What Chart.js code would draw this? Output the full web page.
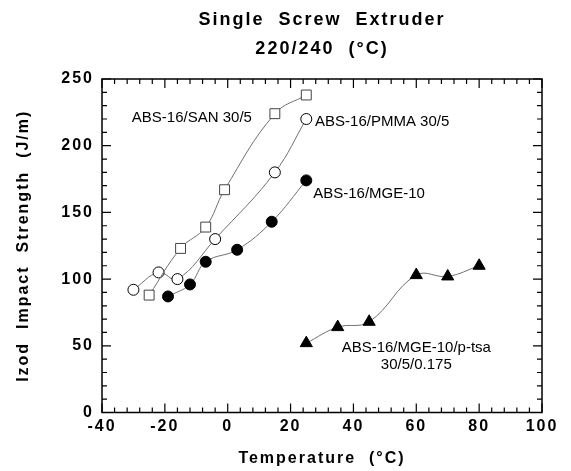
<!DOCTYPE html>
<html>
<head>
<meta charset="utf-8">
<script src="https://cdn.jsdelivr.net/npm/chart.js@4.4.1/dist/chart.umd.min.js"></script>
<style>
  html, body { margin: 0; padding: 0; background: #fff; }
  canvas { display: block; }
</style>
</head>
<body>
<canvas id="impact" width="571" height="471"></canvas>
<script>
// Izod impact strength vs temperature (single screw extruder, 220/240 C)
const sanTemp = [-25, -15, -7, -1, 15, 25];
const sanImpact = [88, 123, 139, 167, 224, 238];
const pmmaTemp = [-30, -22, -16, -4, 15, 25];
const pmmaImpact = [92, 105, 100, 130, 180, 220];
const mgeTemp = [-19, -12, -7, 3, 14, 25];
const mgeImpact = [87, 96, 113, 122, 143, 174];
const tsaTemp = [25, 35, 45, 60, 70, 80];
const tsaImpact = [52, 64, 68, 103, 102, 110];

const xTicks = [-40, -20, 0, 20, 40, 60, 80, 100];
const yTicks = [0, 50, 100, 150, 200, 250];

const FONT = "'Liberation Sans', Arial, sans-serif";

// labels written next to the curves, anchored in data units
const seriesLabels = [
	{ text: 'ABS-16/SAN 30/5', x: -30.5, y: 221, align: 'left' },
	{ text: 'ABS-16/PMMA 30/5', x: 27.8, y: 218, align: 'left' },
	{ text: 'ABS-16/MGE-10', x: 27.2, y: 164, align: 'left' },
	{ text: 'ABS-16/MGE-10/p-tsa', x: 60, y: 48.4, align: 'center' },
	{ text: '30/5/0.175', x: 60, y: 35.6, align: 'center' }
];

function series( xs, ys, style, fill, border, radius ) {
	return {
		data: xs.map( ( v, i ) => ( { x: v, y: ys[ i ] } ) ),
		borderColor: '#707070',
		borderWidth: 1,
		tension: 0.4,
		pointStyle: style,
		pointRadius: radius,
		pointBackgroundColor: fill,
		pointBorderColor: border,
		pointBorderWidth: 1
	};
}

// the old plot has wide letter spacing on the bold texts
const spacing = {
	id: 'spacing',
	beforeUpdate( chart ) { chart.ctx.letterSpacing = '3.5px'; },
	beforeDraw( chart ) { chart.ctx.letterSpacing = '2px'; },
	afterDatasetsDraw( chart ) { chart.ctx.letterSpacing = '3.5px'; }
};

// box with inward ticks on all four sides, plus curve labels
const frame = {
	id: 'frame',
	afterDraw( chart ) {
		const { ctx, chartArea: a, scales: { x, y } } = chart;
		ctx.save();
		ctx.strokeStyle = '#000';
		ctx.lineWidth = 1.5;
		ctx.strokeRect( a.left, a.top, a.right - a.left, a.bottom - a.top );

		ctx.lineWidth = 1.2;
		ctx.beginPath();
		for ( let v = x.min; v <= x.max; v += 4 ) {
			const px = x.getPixelForValue( v );
			const len = v % 20 === 0 ? 9 : 5;
			ctx.moveTo( px, a.bottom ); ctx.lineTo( px, a.bottom - len );
			ctx.moveTo( px, a.top ); ctx.lineTo( px, a.top + len );
		}
		for ( let v = y.min; v <= y.max; v += 10 ) {
			const py = y.getPixelForValue( v );
			const len = v % 50 === 0 ? 9 : 5;
			ctx.moveTo( a.left, py ); ctx.lineTo( a.left + len, py );
			ctx.moveTo( a.right, py ); ctx.lineTo( a.right - len, py );
		}
		ctx.stroke();

		ctx.letterSpacing = '0px';
		ctx.fillStyle = '#000';
		ctx.font = '15px ' + FONT;
		ctx.textBaseline = 'middle';
		seriesLabels.forEach( function ( l ) {
			ctx.textAlign = l.align;
			ctx.fillText( l.text, x.getPixelForValue( l.x ), y.getPixelForValue( l.y ) );
		} );
		ctx.restore();
	}
};

new Chart( document.getElementById( 'impact' ), {
	type: 'line',
	data: {
		datasets: [
			series( sanTemp, sanImpact, 'rect', '#fff', '#444', 7 ),
			series( pmmaTemp, pmmaImpact, 'circle', '#fff', '#000', 5.5 ),
			series( mgeTemp, mgeImpact, 'circle', '#000', '#000', 5.5 ),
			series( tsaTemp, tsaImpact, 'triangle', '#000', '#000', 7 )
		]
	},
	options: {
		responsive: false,
		animation: false,
		events: [],
		layout: { padding: { left: 0, right: 29, top: 0, bottom: 0 } },
		plugins: {
			legend: { display: false },
			tooltip: { enabled: false },
			title: {
				display: true,
				text: [ 'Single  Screw  Extruder', '220/240  (°C)' ],
				fullSize: false,
				color: '#000',
				font: { family: FONT, size: 18, weight: 'bold', lineHeight: '29px' },
				padding: { top: 6, bottom: 15 }
			}
		},
		scales: {
			x: {
				type: 'linear',
				min: -40,
				max: 100,
				z: 1,
				grid: { display: false, drawTicks: false },
				border: { display: false },
				afterBuildTicks: s => { s.ticks = xTicks.map( v => ( { value: v } ) ); },
				afterFit: s => { s.height = 58.5; },
				ticks: {
					autoSkip: false,
					maxRotation: 0,
					padding: 4,
					color: '#000',
					font: { family: FONT, size: 16, weight: 'bold' }
				},
				title: {
					display: true,
					text: 'Temperature  (°C)',
					color: '#000',
					font: { family: FONT, size: 16, weight: 'bold' },
					padding: { top: 0, bottom: 3 }
				}
			},
			y: {
				min: 0,
				max: 250,
				z: 1,
				grid: { display: false, drawTicks: false },
				border: { display: false },
				afterBuildTicks: s => { s.ticks = yTicks.map( v => ( { value: v } ) ); },
				afterFit: s => { s.width = 102; },
				ticks: {
					padding: 8,
					color: '#000',
					font: { family: FONT, size: 16, weight: 'bold' }
				},
				title: {
					display: true,
					text: 'Izod  Impact  Strength  (J/m)',
					color: '#000',
					font: { family: FONT, size: 16, weight: 'bold' },
					padding: { top: 14, bottom: 0 }
				}
			}
		}
	},
	plugins: [ spacing, frame ]
} );
</script>
</body>
</html>
